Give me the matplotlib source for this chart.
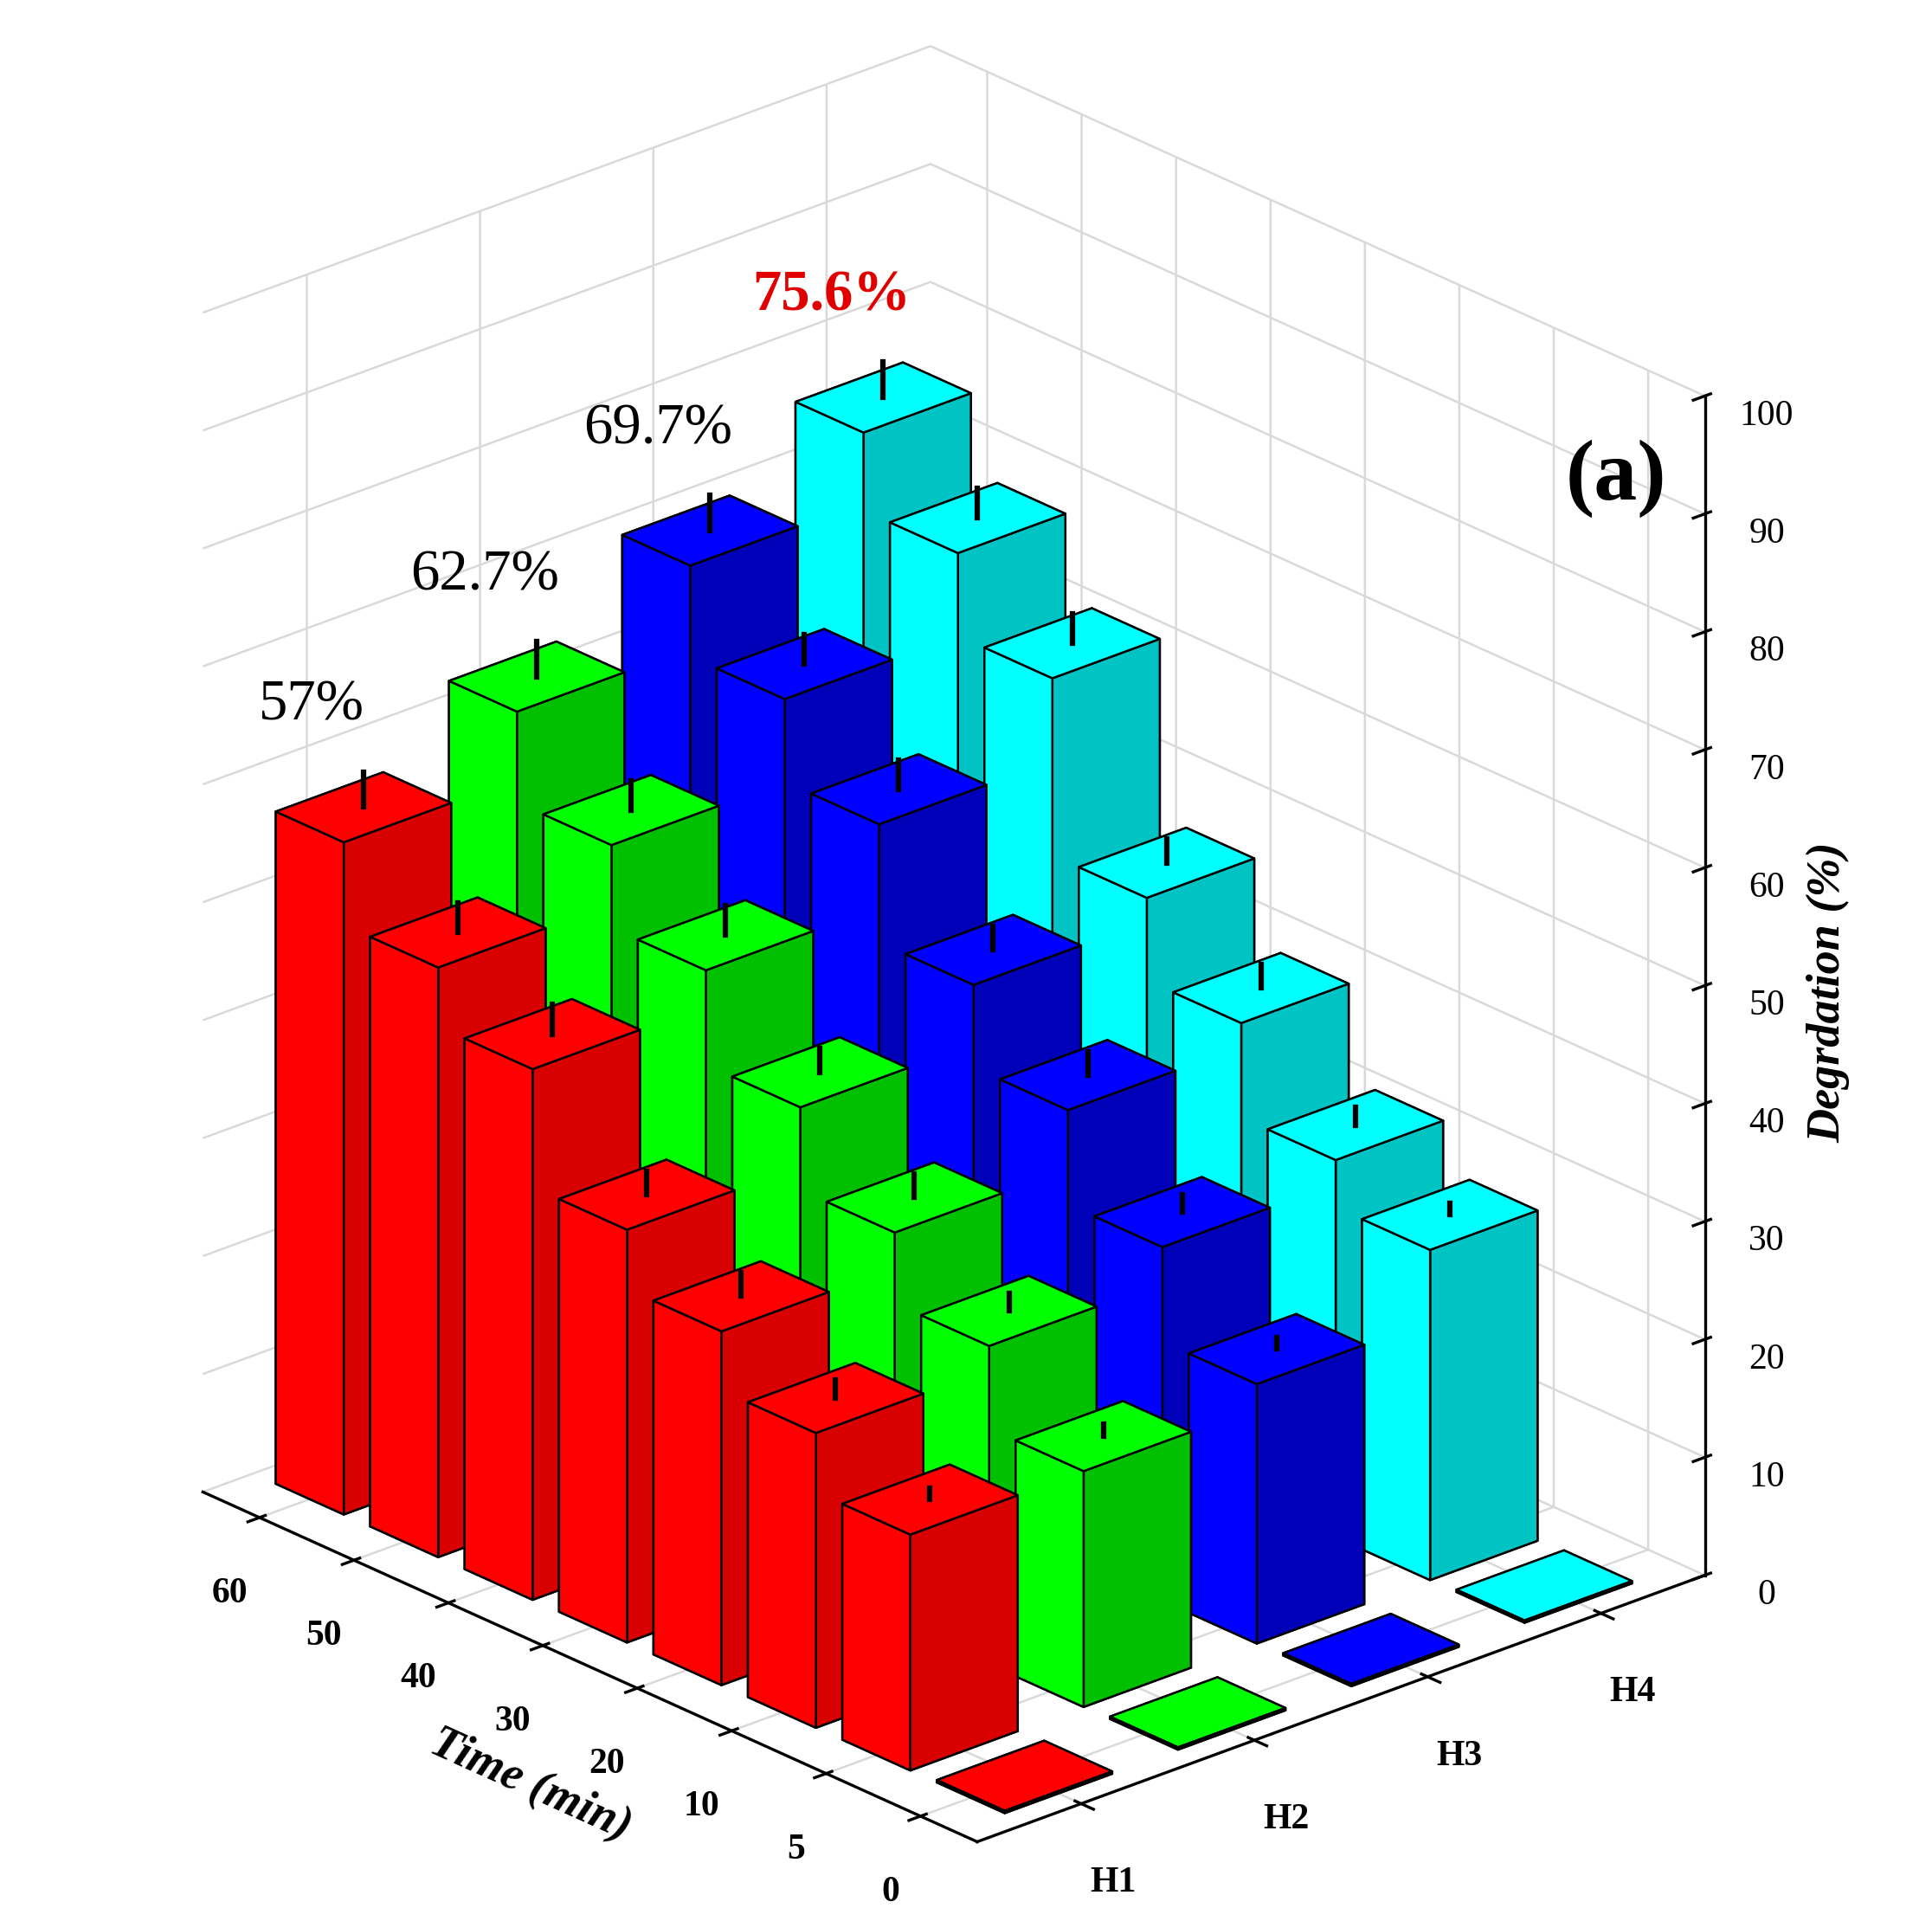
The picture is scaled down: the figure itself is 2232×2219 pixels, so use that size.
import numpy as np
from matplotlib import pyplot as plt

plt.rcParams['font.family'] = ['Liberation Serif', 'DejaVu Serif']

""" =======================  Data  ========================== """
times = ['0', '5', '10', '20', '30', '40', '50', '60']
samples = ['H1', 'H2', 'H3', 'H4']
colors = ['#ff0000', '#00ff00', '#0000ff', '#00ffff']
dark_colors = ['#d80000', '#00c000', '#0000b8', '#00c4c4']
h1 = [0, 20, 25, 30, 35, 45, 50, 57.0]
h2 = [0, 20, 27, 33, 40, 48, 55, 62.7]
h3 = [0, 22, 30, 38, 45, 55, 62, 69.7]
h4 = [0, 28, 32, 40, 47, 62, 69, 75.6]
err = [0, 1, 1.5, 2, 2, 2.5, 2.5, 3]
top_labels = ['57%', '62.7%', '69.7%', '75.6%']
label_colors = ['black', 'black', 'black', '#e00000']

""" =======================  Plot  ========================== """
fig = plt.figure(figsize=(7.443, 7.397), dpi=300)
ax = fig.add_axes([-0.02, -0.03, 1.0, 1.05], projection='3d')
ax.view_init(elev=24, azim=-132)
ax.set_proj_type('ortho')

dx, dy = 0.62, 0.72
for i, vals in enumerate([h1, h2, h3, h4]):
    c, d = colors[i], dark_colors[i]
    face_cols = [c, c, d, d, c, c]
    for j, v in enumerate(vals):
        h = v if v > 0 else 0.2
        ax.bar3d(i - dx / 2, j - dy / 2, 0, dx, dy, h, color=face_cols,
                 edgecolor='black', linewidth=0.6, shade=False)
        if v > 0:
            ax.plot([i, i], [j, j], [v, v + err[j]], color='black', lw=1.5, zorder=100)
    ax.text(i - 0.3, 7, vals[-1] + 9, top_labels[i], color=label_colors[i],
            fontsize=16, ha='center', fontweight='bold' if i == 3 else 'normal')

ax.set_xlim(-0.6, 3.6)
ax.set_ylim(-0.6, 7.6)
ax.set_zlim(0, 100)
ax.set_xticks(range(4))
ax.set_xticklabels(samples, fontsize=10, fontweight='bold')
ax.set_yticks(range(8))
ax.set_yticklabels(times, fontsize=10, fontweight='bold')
ax.set_zticks(np.arange(0, 101, 10))
ax.set_zticklabels([str(t) for t in range(0, 101, 10)], fontsize=10)
ax.set_ylabel('Time (min)', fontsize=13, fontweight='bold', fontstyle='italic', labelpad=2)
ax.set_zlabel('Degrdation (%)', fontsize=13, fontweight='bold', fontstyle='italic', labelpad=2)
ax.zaxis._axinfo['juggled'] = (1, 2, 0)
ax.set_box_aspect((1.1, 1.3, 1.45), zoom=1.0)

for axis in [ax.xaxis, ax.yaxis, ax.zaxis]:
    axis.set_pane_color((1, 1, 1, 1))
    axis._axinfo['grid']['color'] = (0.85, 0.85, 0.85, 1)
    axis._axinfo['grid']['linewidth'] = 0.6

fig.text(0.81, 0.74, '(a)', fontsize=24, fontweight='bold')

plt.savefig('out.png', dpi=300)
